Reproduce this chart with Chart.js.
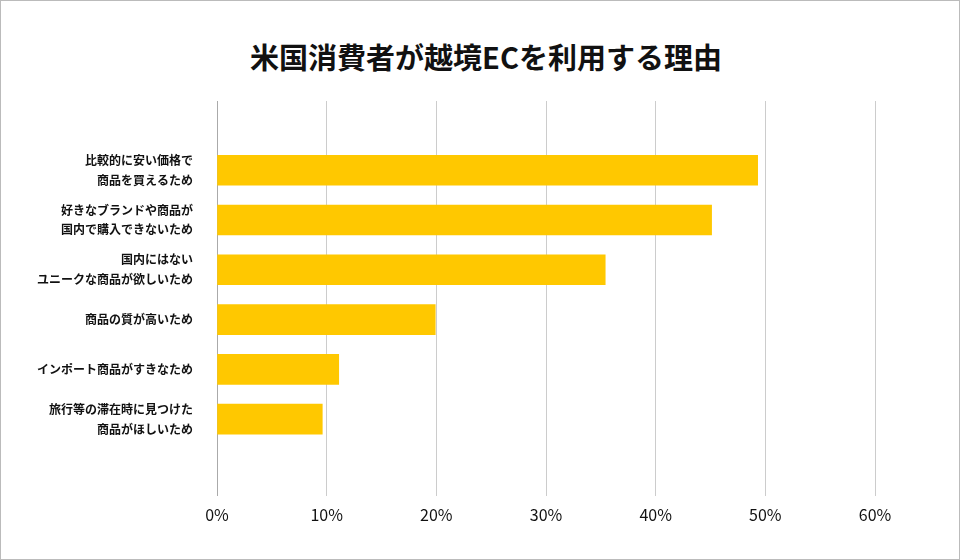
<!DOCTYPE html>
<html>
<head>
<meta charset="utf-8">
<script src="https://cdn.jsdelivr.net/npm/chart.js@4"></script>
<style>
  html, body { margin: 0; padding: 0; background: #fff; }
  #wrap { position: absolute; left: 0; top: 0; width: 958px; height: 558px; border: 1px solid #bbb; }
  #title { position: absolute; left: 0; width: 970px; top: 34px; margin: 0; text-align: center;
           font-family: 'Noto Sans CJK JP', sans-serif; font-size: 29px; font-weight: bold; color: #111; }
  canvas { position: absolute; left: 0; top: 0; }
</style>
</head>
<body>
<div id="wrap">
  <h1 id="title">米国消費者が越境ECを利用する理由</h1>
  <canvas id="chart" width="958" height="558"></canvas>
</div>
<script>
// Reasons US consumers use cross-border EC (%)
const categories = [
  ['比較的に安い価格で', '商品を買えるため'],
  ['好きなブランドや商品が', '国内で購入できないため'],
  ['国内にはない', 'ユニークな商品が欲しいため'],
  '商品の質が高いため',
  'インポート商品がすきなため',
  ['旅行等の滞在時に見つけた', '商品がほしいため']
];
const values = [49.3, 45.1, 35.4, 19.9, 11.1, 9.6];
const xTicks = [0, 10, 20, 30, 40, 50, 60];

const font = "'Noto Sans CJK JP', 'Noto Sans', sans-serif";

const ctx = document.getElementById('chart').getContext('2d');
new Chart(ctx, {
  type: 'bar',
  data: {
    datasets: [{
      data: values.map((v, i) => ({ x: v, y: i })),
      backgroundColor: '#FFC800',
      barThickness: 30
    }]
  },
  options: {
    indexAxis: 'y',
    responsive: false,
    animation: false,
    layout: { padding: { left: 20, right: 84, top: 100, bottom: 24 } },
    scales: {
      x: {
        type: 'linear',
        min: 0,
        max: 60,
        afterBuildTicks: axis => { axis.ticks = xTicks.map(v => ({ value: v })); },
        ticks: {
          callback: v => v + '%',
          color: '#111',
          font: { family: font, size: 16 },
          padding: 10
        },
        grid: { color: '#ccc', drawTicks: false },
        border: { display: false }
      },
      y: {
        type: 'linear',
        reverse: true,
        min: -0.73,
        max: 5.88,
        afterBuildTicks: axis => { axis.ticks = categories.map((c, i) => ({ value: i })); },
        ticks: {
          callback: v => categories[v],
          color: '#111',
          font: { family: font, size: 12, weight: 'bold', lineHeight: 1.65 },
          padding: 16
        },
        grid: { display: false },
        border: { color: '#aaa' }
      }
    },
    plugins: {
      legend: { display: false },
      tooltip: { enabled: false }
    }
  }
});
</script>
</body>
</html>
